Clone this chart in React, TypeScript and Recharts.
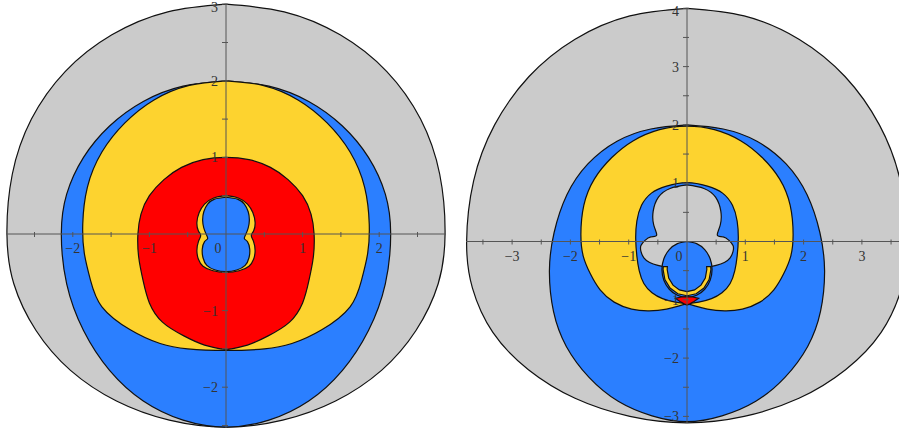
import { ComposedChart, Area, Scatter, XAxis, YAxis, ReferenceLine } from 'recharts'

type Pair = [number, number]
type Pt = { x: number; y: number }

const GRAY = '#cbcbcb'
const BLUE = '#2b7fff'
const GOLD = '#fdd32f'
const RED = '#ff0000'
const INK = '#111111'
const AXIS = '#555555'

// Every outline is stored as its right half, running from its top point on the
// y axis down to its bottom point on the y axis; outline() mirrors it shut.

// left panel
const leftGray: Pair[] = [
  [0, 3.0], [0.76, 2.9], [1.49, 2.6], [2.1, 2.12], [2.54, 1.5], [2.79, 0.78], [2.86, 0],
  [2.77, -0.65], [2.48, -1.26], [2.03, -1.78], [1.43, -2.18], [0.74, -2.43], [0, -2.52],
]
const leftBlue: Pair[] = [
  [0, 2.0], [0.56, 1.93], [1.08, 1.73], [1.52, 1.41], [1.86, 1.0], [2.08, 0.52], [2.15, 0],
  [2.08, -0.65], [1.86, -1.26], [1.52, -1.78], [1.08, -2.18], [0.56, -2.43], [0, -2.52],
]
const leftGold: Pair[] = [
  [0, 2.0], [0.48, 1.94], [0.94, 1.75], [1.32, 1.45], [1.62, 1.07], [1.81, 0.61], [1.87, 0.13],
  [1.85, -0.25], [1.77, -0.6], [1.62, -0.95], [1.25, -1.25], [0.86, -1.43], [0.5, -1.5], [0, -1.52],
]
const leftRed: Pair[] = [
  [0, 1.0], [0.3, 0.97], [0.58, 0.87], [0.81, 0.71], [1.0, 0.5], [1.11, 0.26], [1.15, 0],
  [1.14, -0.3], [1.08, -0.62], [1.0, -0.9], [0.83, -1.15], [0.55, -1.33], [0.28, -1.45], [0, -1.51],
]
const leftPeanutGold: Pair[] = [
  [0, 0.5], [0.16, 0.47], [0.28, 0.39], [0.35, 0.28], [0.38, 0.15], [0.36, 0.04], [0.33, -0.02],
  [0.36, -0.1], [0.38, -0.22], [0.36, -0.33], [0.3, -0.42], [0.17, -0.48], [0, -0.5],
]
const leftPeanutBlue: Pair[] = [
  [0, 0.48], [0.15, 0.455], [0.24, 0.39], [0.29, 0.29], [0.305, 0.18], [0.29, 0.08], [0.26, 0.0],
  [0.24, -0.06], [0.28, -0.1], [0.31, -0.2], [0.3, -0.31], [0.25, -0.41], [0.14, -0.47], [0, -0.49],
]

// right panel
const rightGray: Pair[] = [
  [0, 4.0], [0.98, 3.87], [1.92, 3.47], [2.71, 2.83], [3.3, 2.0], [3.66, 1.04], [3.78, 0],
  [3.68, -0.8], [3.33, -1.56], [2.72, -2.2], [1.92, -2.69], [0.98, -3.0], [0, -3.11],
]
const rightBlue: Pair[] = [
  [0, 2.0], [0.62, 1.93], [1.2, 1.72], [1.7, 1.33], [2.06, 0.8], [2.28, 0.15], [2.36, -0.5],
  [2.29, -1.2], [2.07, -1.8], [1.68, -2.33], [1.18, -2.74], [0.6, -2.99], [0, -3.09],
]
const rightGold: Pair[] = [
  [0, 1.98], [0.47, 1.92], [0.92, 1.73], [1.29, 1.44], [1.59, 1.07], [1.77, 0.62], [1.82, 0.12],
  [1.78, -0.25], [1.66, -0.55], [1.49, -0.83], [1.25, -1.04], [0.95, -1.16],
  [0.65, -1.19], [0.35, -1.16], [0.12, -1.1], [0, -1.07],
]
const rightRing: Pair[] = [
  [0, 1.01], [0.35, 0.95], [0.61, 0.83], [0.78, 0.62], [0.86, 0.35], [0.88, 0.05], [0.86, -0.25],
  [0.82, -0.5], [0.74, -0.72], [0.6, -0.88], [0.42, -0.98], [0.2, -1.04], [0, -1.06],
]
const rightCap: Pair[] = [
  [0, 0.97], [0.29, 0.91], [0.49, 0.76], [0.58, 0.52], [0.57, 0.28], [0.52, 0.11], [0.62, 0.08],
  [0.72, 0.02], [0.79, -0.07], [0.79, -0.17], [0.74, -0.28], [0.64, -0.36], [0.5, -0.41],
  [0.35, -0.44], [0.18, -0.45], [0, -0.45],
]
const rightDisc: Pair[] = [
  [0, 0], [0.165, -0.037], [0.304, -0.141], [0.397, -0.296], [0.43, -0.48], [0.397, -0.664],
  [0.304, -0.819], [0.165, -0.923], [0, -0.96],
]
const rightHoop: Pair[] = [
  [0, -0.93], [0.157, -0.896], [0.29, -0.798], [0.379, -0.652], [0.41, -0.48], [0.407, -0.43],
  [0.337, -0.43], [0.34, -0.48], [0.314, -0.625], [0.24, -0.749], [0.13, -0.831], [0, -0.86],
]
const rightLens: Pair[] = [
  [0, -0.945], [0.1, -0.952], [0.2, -0.975], [0.12, -1.03], [0.05, -1.07], [0, -1.09],
]

const leftXTicks = [-2.5, -2, -1.5, -1, -0.5, 0, 0.5, 1, 1.5, 2, 2.5]
const leftYTicks = [-2.5, -2, -1.5, -1, -0.5, 0.5, 1, 1.5, 2, 2.5, 3]
const rightXTicks = [-3.5, -3, -2.5, -2, -1.5, -1, -0.5, 0, 0.5, 1, 1.5, 2, 2.5, 3, 3.5]
const rightYTicks = [-3, -2.5, -2, -1.5, -1, -0.5, 0.5, 1, 1.5, 2, 2.5, 3, 3.5, 4]

// fromBottom: start the loop at the bottom point, where the outline has a cusp
type Shape = { half: Pair[]; fill: string; curve: 'natural' | 'linear'; fromBottom?: boolean }

const leftShapes: Shape[] = [
  { half: leftGray, fill: GRAY, curve: 'natural' },
  { half: leftBlue, fill: BLUE, curve: 'natural' },
  { half: leftGold, fill: GOLD, curve: 'natural' },
  { half: leftRed, fill: RED, curve: 'natural', fromBottom: true },
  { half: leftPeanutGold, fill: GOLD, curve: 'natural' },
  { half: leftPeanutBlue, fill: BLUE, curve: 'natural' },
]

const rightShapes: Shape[] = [
  { half: rightGray, fill: GRAY, curve: 'natural' },
  { half: rightBlue, fill: BLUE, curve: 'natural' },
  { half: rightGold, fill: GOLD, curve: 'natural', fromBottom: true },
  { half: rightRing, fill: BLUE, curve: 'natural', fromBottom: true },
  { half: rightCap, fill: GRAY, curve: 'natural' },
  { half: rightDisc, fill: BLUE, curve: 'natural' },
  { half: rightHoop, fill: GOLD, curve: 'linear' },
  { half: rightLens, fill: RED, curve: 'linear' },
]

// pixel frame of each panel: where the origin sits and how many px per unit
const leftFrame = { ox: 226, oy: 234, k: 76.6, left: 6, top: 4, width: 440, height: 424 }
const rightFrame = { ox: 687, oy: 241.5, k: 58.3, left: 466, top: 8, width: 442, height: 415 }
const PAD = 14

function outline(half: Pair[], fromBottom = false): Pt[] {
  const right = half.map(([x, y]) => ({ x, y }))
  const mirror = half.map(([x, y]) => ({ x: -x, y }))
  if (fromBottom) {
    // bottom -> up the left side -> top -> down the right side -> bottom
    return [...mirror.slice().reverse(), ...right.slice(1)]
  }
  return [...right, ...mirror.slice(0, -1).reverse()]
}

const fmt = (v: number) => (v < 0 ? `\u2212${-v}` : String(v))

const textProps = {
  fontFamily: '"Liberation Serif", "DejaVu Serif", serif',
  fontSize: 14,
  fill: '#333',
}

function XTick(p: any) {
  const v = p.payload.x
  if (v === 0) {
    return <text x={p.cx - 8} y={p.cy + 19} textAnchor="middle" {...textProps}>0</text>
  }
  return (
    <g>
      <line x1={p.cx} x2={p.cx} y1={p.cy - 2} y2={p.cy + 3} stroke={AXIS} />
      {Number.isInteger(v) && (
        <text x={p.cx} y={p.cy + 19} textAnchor="middle" {...textProps}>{fmt(v)}</text>
      )}
    </g>
  )
}

function YTick(p: any) {
  const v = p.payload.y
  return (
    <g>
      <line x1={p.cx - 4} x2={p.cx + 2} y1={p.cy} y2={p.cy} stroke={AXIS} />
      {Number.isInteger(v) && (
        // the top label sits right at the upper edge, so nudge it into view
        <text x={p.cx - 8} y={p.cy + (p.cy < PAD + 6 ? 8 : 5)} textAnchor="end" {...textProps}>{fmt(v)}</text>
      )}
    </g>
  )
}

type Frame = typeof leftFrame

function Panel({ frame, shapes, xTicks, yTicks }: { frame: Frame; shapes: Shape[]; xTicks: number[]; yTicks: number[] }) {
  const { ox, oy, k, left, top, width, height } = frame
  const xDomain = [(left - ox) / k, (left + width - ox) / k]
  const yDomain = [(oy - top - height) / k, (oy - top) / k]
  return (
    <div style={{ position: 'absolute', left: left - PAD, top: top - PAD }}>
      <ComposedChart
        width={width + 2 * PAD}
        height={height + 2 * PAD}
        margin={{ top: PAD, right: PAD, bottom: PAD, left: PAD }}
      >
        <XAxis type="number" dataKey="x" domain={xDomain} hide />
        <YAxis type="number" dataKey="y" domain={yDomain} hide />
        {shapes.map((s, i) => {
          const pts = outline(s.half, s.fromBottom)
          return (
            <Area
              key={i}
              data={pts}
              dataKey="y"
              type={s.curve}
              baseValue={pts[0].y}
              fill={s.fill}
              fillOpacity={1}
              stroke={INK}
              strokeWidth={1.2}
              dot={false}
              activeDot={false}
              legendType="none"
              isAnimationActive={false}
            />
          )
        })}
        <ReferenceLine x={0} stroke={AXIS} strokeWidth={1} />
        <ReferenceLine y={0} stroke={AXIS} strokeWidth={1} />
        <Scatter data={xTicks.map((x) => ({ x, y: 0 }))} shape={XTick} isAnimationActive={false} />
        <Scatter data={yTicks.map((y) => ({ x: 0, y }))} shape={YTick} isAnimationActive={false} />
      </ComposedChart>
    </div>
  )
}

export default function App() {
  return (
    <div style={{ position: 'fixed', left: 0, top: 0, width: 899, height: 433, overflow: 'hidden', background: '#fff' }}>
      <Panel frame={leftFrame} shapes={leftShapes} xTicks={leftXTicks} yTicks={leftYTicks} />
      <Panel frame={rightFrame} shapes={rightShapes} xTicks={rightXTicks} yTicks={rightYTicks} />
    </div>
  )
}
